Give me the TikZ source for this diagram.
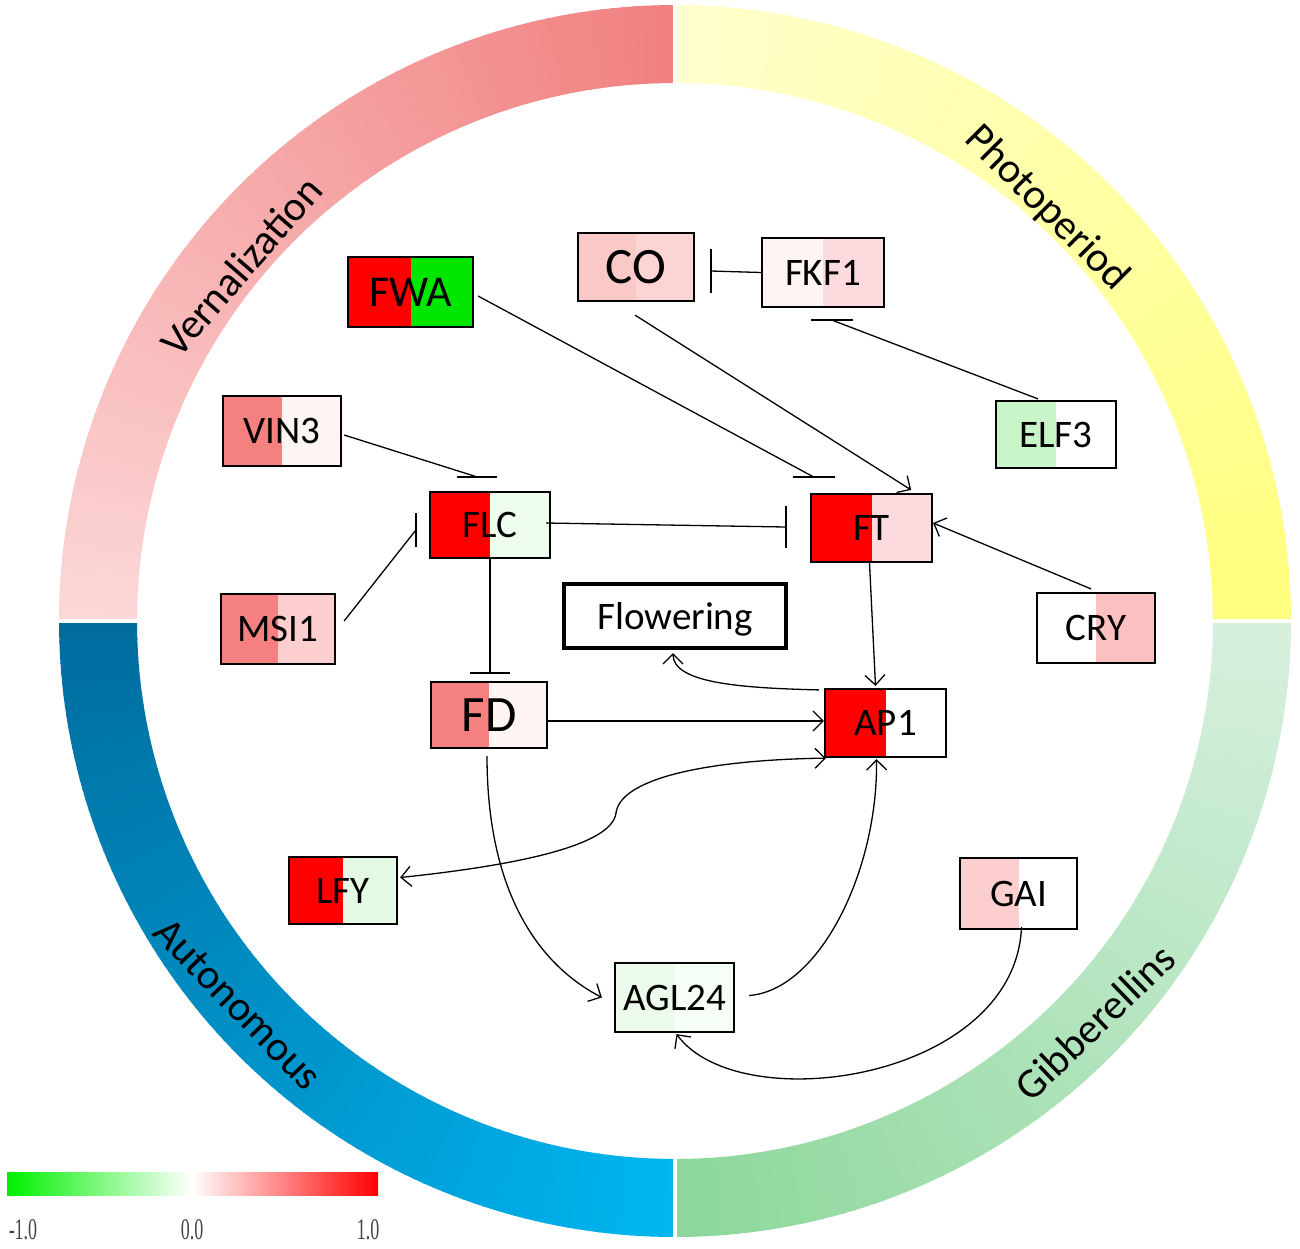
\documentclass[tikz,border=0pt]{standalone}
\usepackage{fontspec}
\setmainfont{Carlito}
\newfontfamily\numfont{Liberation Serif}
\usetikzlibrary{arrows.meta,calc}
\definecolor{rd}{RGB}{255,0,0}
\definecolor{gn}{RGB}{0,230,0}
\definecolor{salm}{RGB}{244,128,128}
\definecolor{pkA}{RGB}{251,200,200}
\definecolor{pkB}{RGB}{252,212,212}
\definecolor{pkC}{RGB}{252,218,222}
\definecolor{pkD}{RGB}{251,192,192}
\definecolor{pkE}{RGB}{252,206,206}
\definecolor{wpk}{RGB}{255,245,243}
\definecolor{lgA}{RGB}{200,245,200}
\definecolor{lgB}{RGB}{238,253,238}
\definecolor{lgC}{RGB}{228,250,228}
\definecolor{lgD}{RGB}{236,250,236}
\definecolor{lgE}{RGB}{246,255,246}
\definecolor{verD}{RGB}{241,128,128}
\definecolor{verL}{RGB}{252,215,215}
\definecolor{phoL}{RGB}{255,255,205}
\definecolor{phoD}{RGB}{255,255,125}
\definecolor{gibL}{RGB}{215,240,222}
\definecolor{gibD}{RGB}{140,215,155}
\definecolor{autD}{RGB}{0,108,158}
\definecolor{autB}{RGB}{0,182,240}
\definecolor{cbgreen}{RGB}{0,240,0}
\definecolor{numgray}{RGB}{70,70,70}
\tikzset{
  gene/.style 2 args={draw=black, line width=2.2pt, inner sep=0pt, text depth=0pt,
    font=\fontsize{39}{40}\selectfont,
    path picture={
      \fill[#1] (path picture bounding box.south west) rectangle (path picture bounding box.north);
      \fill[#2] (path picture bounding box.south) rectangle (path picture bounding box.north east);}},
  edge/.style={line width=1.3pt, black},
  act/.style={edge, -{Straight Barb[length=10pt,width=20pt]}},
  bothact/.style={edge, {Straight Barb[length=10pt,width=20pt]}-{Straight Barb[length=10pt,width=20pt]}},
  bar/.style={line width=1.5pt, black},
  ringlab/.style={font=\fontsize{42}{44}\selectfont, text depth=0pt, inner sep=0pt},
  numlab/.style={font=\numfont\fontsize{30}{30}\selectfont, text=numgray, xscale=0.6, inner sep=0pt},
}
\begin{document}
\begin{tikzpicture}[x=1pt,y=-1pt]
\useasboundingbox (0,0) rectangle (1300,1248);
\fill[white] (0,0) rectangle (1300,1248);

% ---- ring ----
\begin{scope}[shift={(675,621)}]
\foreach \i in {0,...,89}{
  \pgfmathtruncatemacro{\t}{round(100*\i/89)}
  \pgfmathsetmacro{\a}{180+\i}
  \pgfmathsetmacro{\b}{\a+1.15}
  \fill[verD!\t!verL] (\a:616) -- (\b:616) -- (\b:538) -- (\a:538) -- cycle;
}
\foreach \i in {0,...,89}{
  \pgfmathtruncatemacro{\t}{round(100*\i/89)}
  \pgfmathsetmacro{\a}{270+\i}
  \pgfmathsetmacro{\b}{\a+1.15}
  \fill[phoD!\t!phoL] (\a:616) -- (\b:616) -- (\b:538) -- (\a:538) -- cycle;
}
\foreach \i in {0,...,89}{
  \pgfmathtruncatemacro{\t}{round(100*\i/89)}
  \pgfmathsetmacro{\a}{\i}
  \pgfmathsetmacro{\b}{\a+1.15}
  \fill[gibD!\t!gibL] (\a:616) -- (\b:616) -- (\b:538) -- (\a:538) -- cycle;
}
\foreach \i in {0,...,89}{
  \pgfmathtruncatemacro{\t}{round(100*\i/89)}
  \pgfmathsetmacro{\a}{90+\i}
  \pgfmathsetmacro{\b}{\a+1.15}
  \fill[autD!\t!autB] (\a:616) -- (\b:616) -- (\b:538) -- (\a:538) -- cycle;
}
\end{scope}
\draw[white, line width=3.5pt] (675,90) -- (675,-5);
\draw[white, line width=3.5pt] (675,1150) -- (675,1250);
\draw[white, line width=3.5pt] (145,621) -- (40,621);
\draw[white, line width=3.5pt] (1205,621) -- (1300,621);

\node[ringlab, rotate=49] (lver) at (241,266) {Vernalization};
\node[ringlab, rotate=-45] (lpho) at (1049,206) {Photoperiod};
\node[ringlab, rotate=44] (lgib) at (1095,1022) {Gibberellins};
\node[ringlab, rotate=-46] (laut) at (238,1004) {Autonomous};

% ---- genes ----
\node[gene={rd}{gn}, minimum width=125pt, minimum height=70pt, font=\fontsize{44}{46}\selectfont] (FWA) at (410.5,292) {FWA};
\node[gene={pkA}{pkB}, minimum width=116pt, minimum height=68pt, font=\fontsize{51}{52}\selectfont] (CO) at (636,267) {CO};
\node[gene={wpk}{pkC}, minimum width=122pt, minimum height=69pt] (FKF1) at (823,272.5) {FKF1};
\node[gene={lgA}{white}, minimum width=120pt, minimum height=67pt] (ELF3) at (1056,434.5) {ELF3};
\node[gene={salm}{wpk}, minimum width=118pt, minimum height=70pt] (VIN3) at (282,431) {VIN3};
\node[gene={rd}{lgB}, minimum width=120pt, minimum height=66pt] (FLC) at (490,525) {FLC};
\node[gene={rd}{pkC}, minimum width=121pt, minimum height=68pt] (FT) at (871.5,528) {FT};
\node[gene={salm}{pkE}, minimum width=114pt, minimum height=70pt] (MSI1) at (278,629) {MSI1};
\node[draw=black, line width=4pt, fill=white, minimum width=222pt, minimum height=64pt, inner sep=0pt, text depth=0pt, font=\fontsize{39}{40}\selectfont] (FLW) at (675,616) {Flowering};
\node[gene={white}{pkD}, minimum width=118pt, minimum height=70pt] (CRY) at (1096,628) {CRY};
\node[gene={salm}{wpk}, minimum width=116pt, minimum height=66pt, font=\fontsize{51}{52}\selectfont] (FD) at (489,715) {FD};
\node[gene={rd}{white}, minimum width=121pt, minimum height=68pt] (AP1) at (885.5,723) {AP1};
\node[gene={rd}{lgC}, minimum width=108pt, minimum height=67pt] (LFY) at (343,890.5) {LFY};
\node[gene={pkE}{white}, minimum width=117pt, minimum height=71pt] (GAI) at (1018.5,893.5) {GAI};
\node[gene={lgD}{lgE}, minimum width=119pt, minimum height=69pt] (AGL24) at (674.5,997.5) {AGL24};

% ---- inhibitions ----
\draw[edge] (FKF1.west) -- ($(CO.east)+(16,4)$) coordinate (bCO);
\draw[bar] ($(bCO)+(0,-22)$) -- ($(bCO)+(0,22)$);

\draw[edge] ($(ELF3.north)+(-18,-1)$) -- ($(FKF1.south)+(9,12)$) coordinate (bFKF);
\draw[bar] ($(bFKF)+(-21,0)$) -- ($(bFKF)+(21,0)$);

\draw[edge] ($(FWA.east)+(4,4)$) -- ($(FT.north)+(-58,-16)$) coordinate (bFT1);
\draw[bar] ($(bFT1)+(-21,0)$) -- ($(bFT1)+(21,0)$);

\draw[edge] ($(VIN3.east)+(2,4)$) -- ($(FLC.north)+(-13,-14)$) coordinate (bFLC1);
\draw[bar] ($(bFLC1)+(-20,0)$) -- ($(bFLC1)+(20,0)$);

\draw[edge] ($(MSI1.east)+(8,-8)$) -- ($(FLC.west)+(-13,5)$) coordinate (bFLC2);
\draw[bar] ($(bFLC2)+(0,-17)$) -- ($(bFLC2)+(0,17)$);

\draw[edge] ($(FLC.east)+(-5,-2)$) -- ($(FT.west)+(-24,-1)$) coordinate (bFT2);
\draw[bar] ($(bFT2)+(0,-21)$) -- ($(bFT2)+(0,21)$);

\draw[edge] (FLC.south) -- ($(FD.north)+(1,-8)$) coordinate (bFD);
\draw[bar] ($(bFD)+(-20,0)$) -- ($(bFD)+(20,0)$);

% ---- activations ----
\draw[act] ($(CO.south)+(-1,13)$) -- ($(FT.north east)+(-22,-3)$);
\draw[act] ($(CRY.north)+(-5,-3)$) -- ($(FT.east)+(0,-5)$);
\draw[act] ($(FT.south)+(-2,0)$) -- ($(AP1.north)+(-10,-2)$);
\draw[act] ($(FD.east)+(0,6)$) -- ($(AP1.west)+(0,-2)$);
\draw[act] ($(AP1.north west)+(-5,2)$) .. controls (740,688) and (673,683) .. ($(FLW.south)+(-2,3)$);
\draw[bothact] ($(LFY.east)+(2,-13)$) .. controls (520,865) and (612,845) .. (616,813)
   .. controls (620,780) and (700,760) .. ($(AP1.south west)+(2,0)$);
\draw[act] ($(FD.south)+(-2,7)$) .. controls (487,880) and (530,960) .. ($(AGL24.west)+(-12,0)$);
\draw[act] ($(AGL24.east)+(14,-2)$) .. controls (820,990) and (878,870) .. ($(AP1.south)+(-9,1)$);
\draw[act] ($(GAI.south)+(3,-3)$) .. controls (1015,1080) and (740,1120) .. ($(AGL24.south)+(2,1)$);

% ---- colour bar ----
\shade[left color=cbgreen, right color=white] (7,1172) rectangle (192,1195);
\shade[left color=white, right color=rd] (192,1172) rectangle (378,1195);
\node[numlab] (nm) at (23,1230) {-1.0};
\node[numlab] (nz) at (192,1230) {0.0};
\node[numlab] (np) at (368,1230) {1.0};
\end{tikzpicture}
\end{document}
